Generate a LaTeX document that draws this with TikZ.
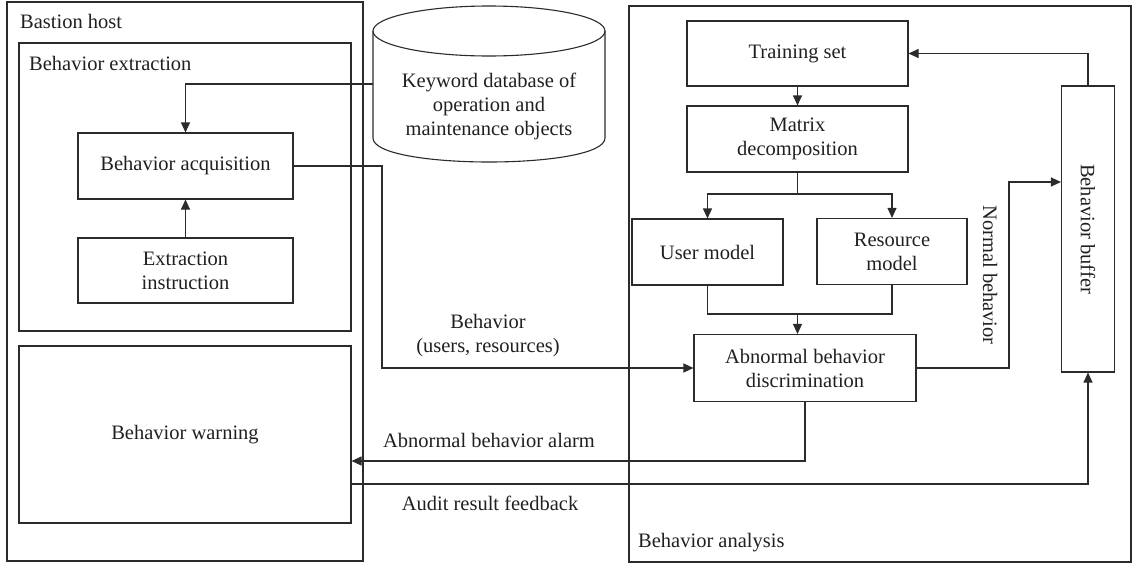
\documentclass[tikz,border=0pt]{standalone}
\usepackage{fontspec}
\setmainfont{Liberation Serif}
\usetikzlibrary{arrows.meta,calc}
\definecolor{ln}{HTML}{2B2B2B}
\definecolor{tx}{HTML}{231F20}
\begin{document}
\begin{tikzpicture}[x=1pt,y=-1pt,
  every node/.style={text=tx,font=\fontsize{20.5}{24}\selectfont},
  line/.style={draw=ln,line width=1.1pt},
  arr/.style={line,-{Triangle[length=10pt,width=9pt]}},
  blk/.style={line,draw,align=center,inner sep=0pt},
  lbl/.style={align=center,inner sep=0pt}]
\useasboundingbox (0,0) rectangle (1137,565);
% containers
\draw[line] (7,2) rectangle (363,561);
\draw[line] (19,43) rectangle (351,331);
\draw[line] (629,6) rectangle (1131,562);
\node[lbl,anchor=west] (tBastion) at (20,21) {Bastion host};
\node[lbl,anchor=west] (tExtr) at (29,63) {Behavior extraction};
\node[lbl,anchor=west] (tAnal) at (638,543) {Behavior analysis};
% database cylinder
\draw[line,fill=white] (489,31) ellipse [x radius=116, y radius=25];
\draw[line] (373,31) -- (373,138) .. controls (373,170) and (605,170) .. (605,138) -- (605,31);
\node[lbl] (db) at (489,106) {Keyword database of\\operation and\\maintenance objects};
\coordinate (dbL) at (373,84);
% left blocks
\node[blk,minimum width=215pt,minimum height=66pt] (acq) at (185.5,166) {Behavior acquisition};
\node[blk,minimum width=215pt,minimum height=65pt] (ext) at (185.5,270.5) {Extraction\\instruction};
\node[blk,minimum width=332pt,minimum height=177pt] (warn) at (185,434.5) {Behavior warning};
% right blocks
\node[blk,minimum width=221pt,minimum height=65pt] (train) at (797.5,53.5) {Training set};
\node[blk,minimum width=221pt,minimum height=66pt] (matrix) at (797.5,139) {Matrix\\decomposition};
\node[blk,minimum width=151pt,minimum height=66pt] (user) at (707.5,252) {User model};
\node[blk,minimum width=150pt,minimum height=66pt] (res) at (892,251.5) {Resource\\model};
\node[blk,minimum width=222pt,minimum height=67pt] (disc) at (805,368) {Abnormal behavior\\discrimination};
\node[blk,minimum width=53pt,minimum height=286pt] (buf) at (1088,229) {};
\node[lbl,rotate=-90] (tBuf) at (buf.center) {Behavior buffer};
% connectors
\draw[arr] (dbL) -| (acq.north);
\draw[arr] (ext) -- (acq);
\coordinate (bx) at (382,166);
\draw[arr] (acq.east) -- (bx) |- (disc.west);
\draw[arr] (train) -- (matrix);
\coordinate (mj) at (797.5,194);
\draw[line] (matrix.south) -- (mj);
\draw[arr] (mj) -| (user.north);
\draw[arr] (mj) -| (res.north);
\coordinate (mg) at (797.5,314);
\draw[line] (user.south) |- (mg) -| (res.south);
\draw[arr] (mg) -- (mg |- disc.north);
\coordinate (nb) at (1009,182);
\draw[arr] (disc.east) -| (nb) -- (nb -| buf.west);
\draw[arr] (buf.north) |- (train.east);
\coordinate (al) at (805,461);
\draw[arr] (disc.south) |- (warn.east |- al);
\coordinate (au) at (500,484);
\draw[arr] (warn.east |- au) -| (buf.south);
% labels
\node[lbl] (tBeh) at (488,336) {Behavior\\(users, resources)};
\node[lbl,rotate=-90] (tNorm) at (990,275) {Normal behavior};
\node[lbl] (tAlarm) at (489,440) {Abnormal behavior alarm};
\node[lbl] (tAudit) at (490,503) {Audit result feedback};
\end{tikzpicture}
\end{document}
